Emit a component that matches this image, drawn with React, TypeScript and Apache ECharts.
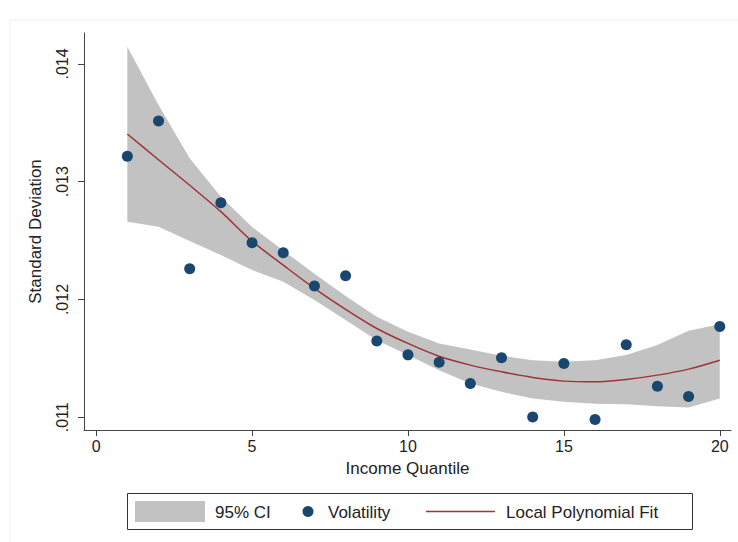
import React, { useEffect, useRef } from "react";
import * as echarts from "echarts";

const quantiles = [1, 2, 3, 4, 5, 6, 7, 8, 9, 10, 11, 12, 13, 14, 15, 16, 17, 18, 19, 20];
const volatility = [
  0.013216, 0.013516, 0.012261, 0.012822, 0.012482, 0.012397, 0.012114, 0.012201, 0.011647, 0.01153,
  0.011468, 0.011287, 0.011505, 0.011003, 0.011457, 0.010981, 0.011615, 0.011264, 0.011177, 0.011771,
];
const fitValues = [
  0.013405, 0.013187, 0.01297, 0.012746, 0.012495, 0.012292, 0.012094, 0.011916, 0.011754, 0.011627,
  0.011518, 0.011443, 0.011386, 0.011338, 0.011307, 0.011301, 0.011321, 0.011358, 0.011409, 0.011485,
];
const ciUpper = [
  0.014147, 0.013652, 0.013199, 0.012873, 0.012616, 0.012416, 0.012218, 0.01203, 0.011853, 0.011726,
  0.011627, 0.011576, 0.011522, 0.011485, 0.011471, 0.011485, 0.011528, 0.011613, 0.011734, 0.011791,
];
const ciLower = [
  0.01266, 0.012618, 0.012496, 0.012377, 0.01225, 0.01215, 0.011995, 0.011825, 0.011655, 0.011528,
  0.0114, 0.011287, 0.011216, 0.01116, 0.011131, 0.011115, 0.011111, 0.011094, 0.011083, 0.01116,
];
const xTicks = [0, 5, 10, 15, 20];
const yTicks = [0.011, 0.012, 0.013, 0.014];

const FONT = "'Liberation Sans', Arial, Helvetica, sans-serif";
const NAVY = "#1a476f";
const RED = "#9e3339";
const BAND = "#c2c2c2";
const AXIS = "#444444";

export default function App() {
  const ref = useRef<HTMLDivElement>(null);
  useEffect(() => {
    if (!ref.current) return;
    const chart = echarts.init(ref.current, null, { renderer: "svg" });
    const option: any = {
      animation: false,
      backgroundColor: "#ffffff",
      textStyle: { fontFamily: FONT },
      grid: { left: 84, right: 7, top: 33, bottom: 112 },
      xAxis: {
        type: "value",
        min: -0.39,
        max: 20.36,
        axisLine: { show: true, onZero: false, lineStyle: { color: AXIS, width: 1 } },
        axisTick: { show: true, length: 6, customValues: xTicks, lineStyle: { color: AXIS } },
        axisLabel: { customValues: xTicks, fontSize: 16, color: "#222", margin: 8, fontFamily: FONT },
        splitLine: { show: false },
        name: "Income Quantile",
        nameLocation: "middle",
        nameGap: 30,
        nameTextStyle: { fontSize: 17, color: "#222", fontFamily: FONT },
      },
      yAxis: {
        type: "value",
        min: 0.010892,
        max: 0.014263,
        axisLine: { show: true, onZero: false, lineStyle: { color: AXIS, width: 1 } },
        axisTick: { show: true, length: 6, customValues: yTicks, lineStyle: { color: AXIS } },
        axisLabel: {
          customValues: yTicks,
          rotate: 90,
          fontSize: 16,
          color: "#222",
          margin: 14,
          fontFamily: FONT,
          formatter: (v: number) => v.toFixed(3).replace(/^0/, ""),
        },
        splitLine: { show: false },
        name: "Standard Deviation",
        nameLocation: "middle",
        nameGap: 40,
        nameTextStyle: { fontSize: 17, color: "#222", fontFamily: FONT },
      },
      series: [
        {
          name: "grid",
          type: "line",
          z: 1,
          data: [],
          silent: true,
          markLine: {
            silent: true,
            symbol: ["none", "none"],
            label: { show: false },
            lineStyle: { color: "#e6eef0", width: 1, type: "solid" },
            data: yTicks.map((v) => ({ yAxis: v })),
          },
        },
        {
          name: "95% CI",
          type: "custom",
          z: 2,
          silent: true,
          data: [[quantiles[0], ciLower[0]]],
          renderItem: (params: any, api: any) => {
            const pts: number[][] = [];
            for (let i = 0; i < quantiles.length; i++) pts.push(api.coord([quantiles[i], ciUpper[i]]));
            for (let i = quantiles.length - 1; i >= 0; i--) pts.push(api.coord([quantiles[i], ciLower[i]]));
            return {
              type: "polygon",
              shape: { points: pts },
              style: { fill: BAND, stroke: "none" },
            };
          },
        },
        {
          name: "Local Polynomial Fit",
          type: "line",
          z: 3,
          data: quantiles.map((q, i) => [q, fitValues[i]]),
          showSymbol: false,
          symbol: "none",
          smooth: 0.3,
          lineStyle: { color: RED, width: 1.5 },
        },
        {
          name: "Volatility",
          type: "scatter",
          z: 4,
          data: quantiles.map((q, i) => [q, volatility[i]]),
          symbolSize: 11,
          itemStyle: { color: NAVY, opacity: 1 },
        },
      ],
      graphic: [
        {
          type: "rect",
          z: -10,
          shape: { x: 10, y: 20, width: 760, height: 600 },
          style: { fill: "none", stroke: "#eeeeee", lineWidth: 1 },
          silent: true,
        },
        {
          type: "group",
          children: [
            {
              type: "rect",
              shape: { x: 127.5, y: 493.5, width: 565, height: 36 },
              style: { fill: "#ffffff", stroke: "#333333", lineWidth: 1 },
            },
            {
              type: "rect",
              shape: { x: 135, y: 501, width: 70, height: 21 },
              style: { fill: BAND },
            },
            {
              type: "text",
              x: 215,
              y: 512,
              style: { text: "95% CI", fontSize: 17, fill: "#222", fontFamily: FONT, verticalAlign: "middle" },
            },
            {
              type: "circle",
              shape: { cx: 308, cy: 511.5, r: 5.5 },
              style: { fill: NAVY },
            },
            {
              type: "text",
              x: 328,
              y: 512,
              style: { text: "Volatility", fontSize: 17, fill: "#222", fontFamily: FONT, verticalAlign: "middle" },
            },
            {
              type: "line",
              shape: { x1: 426, y1: 511.5, x2: 495, y2: 511.5 },
              style: { stroke: RED, lineWidth: 1.5 },
            },
            {
              type: "text",
              x: 506,
              y: 512,
              style: {
                text: "Local Polynomial Fit",
                fontSize: 17,
                fill: "#222",
                fontFamily: FONT,
                verticalAlign: "middle",
              },
            },
          ],
        },
      ],
    };
    chart.setOption(option);
    return () => chart.dispose();
  }, []);
  return (
    <div
      ref={ref}
      style={{ position: "fixed", left: 0, top: 0, width: 738, height: 542, background: "#fff" }}
    />
  );
}
